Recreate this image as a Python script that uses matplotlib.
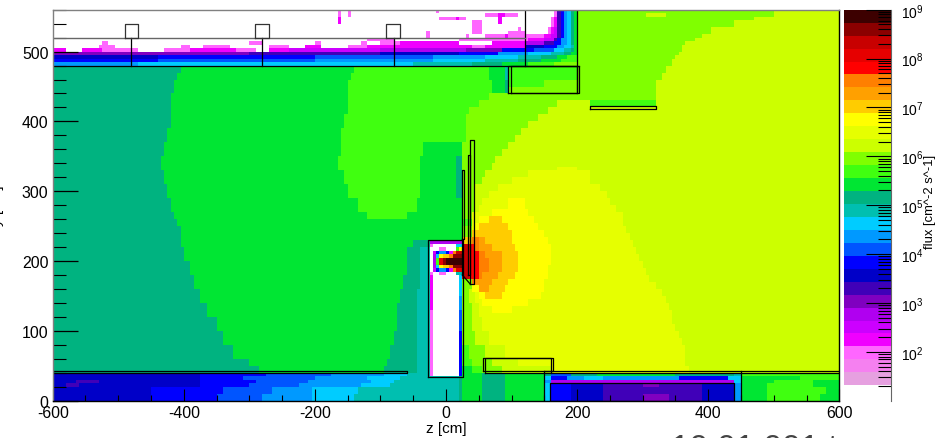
import numpy as np
import matplotlib
matplotlib.use('Agg')
import matplotlib.pyplot as plt
from matplotlib.colors import ListedColormap, BoundaryNorm
from matplotlib.ticker import MultipleLocator, LogLocator, NullFormatter

plt.rcParams['font.family'] = ['Liberation Sans', 'DejaVu Sans']
plt.rcParams['axes.unicode_minus'] = False

# palette, band 1 is the top of the scale (1e9), one band = 0.265 decades
BAND_COLORS = ['#3d0000', '#8b0000', '#c80000', '#e60000', '#ff0000', '#ff7f00', '#ffa000', '#ffcc00',
               '#ffff00', '#e6ff00', '#ccff00', '#80ff00', '#40ff10', '#00e633', '#00b380', '#00bfb0',
               '#00ccff', '#0099ff', '#0055ff', '#0000ff', '#0000c8', '#4000b8', '#8000c0', '#b000f0',
               '#cc00ff', '#f000ff', '#ff66ff', '#f580f0', '#e6a0e0']
BAND_WIDTH = 0.265

# rows: y0, y1, z start, [(z end, band), ...], band 0 = no flux (white)
HALL_ROWS = [
    (40, 50, -600, [(-287, 15), (-97, 14), (-47, 15), (-27, 16), (26, 0), (40, 14), (56, 13), (85, 12), (160, 11), (368, 10), (600, 11)]),
    (50, 60, -600, [(-300, 15), (-92, 14), (-47, 15), (-27, 16), (26, 0), (38, 13), (70, 12), (112, 11), (367, 10), (600, 11)]),
    (60, 80, -600, [(-325, 15), (-85, 14), (-47, 15), (-27, 16), (26, 0), (35, 13), (58, 12), (90, 11), (365, 10), (600, 11)]),
    (80, 100, -600, [(-340, 15), (-78, 14), (-47, 15), (-27, 16), (26, 0), (45, 12), (66, 11), (358, 10), (600, 11)]),
    (100, 120, -600, [(-352, 15), (-76, 14), (-47, 15), (-27, 16), (26, 0), (40, 12), (55, 11), (350, 10), (600, 11)]),
    (120, 140, -600, [(-365, 15), (-73, 14), (-45, 15), (-27, 16), (26, 0), (38, 12), (48, 11), (343, 10), (600, 11)]),
    (140, 160, -600, [(-376, 15), (-70, 14), (-43, 15), (-27, 16), (26, 0), (36, 12), (44, 11), (330, 10), (600, 11)]),
    (160, 180, -600, [(-385, 15), (-65, 14), (-41, 15), (-27, 16), (26, 0), (42, 12), (308, 10), (600, 11)]),
    (180, 200, -600, [(-392, 15), (-60, 14), (-41, 15), (-27, 16), (26, 0), (42, 12), (298, 10), (600, 11)]),
    (200, 220, -600, [(-400, 15), (-60, 14), (-41, 15), (-27, 16), (26, 0), (42, 12), (288, 10), (600, 11)]),
    (220, 230, -600, [(-405, 15), (-50, 14), (-27, 15), (26, 0), (42, 12), (280, 10), (600, 11)]),
    (230, 250, -600, [(-407, 15), (26, 14), (42, 12), (275, 10), (600, 11)]),
    (250, 260, -600, [(-410, 15), (26, 14), (42, 13), (272, 10), (600, 11)]),
    (260, 270, -600, [(-415, 15), (-120, 14), (-60, 13), (26, 14), (42, 12), (268, 10), (600, 11)]),
    (270, 290, -600, [(-420, 15), (-135, 14), (-44, 13), (25, 14), (42, 12), (55, 11), (255, 10), (600, 11)]),
    (290, 310, -600, [(-425, 15), (-150, 14), (-41, 13), (15, 14), (25, 15), (39, 12), (75, 11), (240, 10), (600, 11)]),
    (310, 330, -600, [(-432, 15), (-155, 14), (-41, 13), (15, 14), (25, 15), (55, 12), (115, 11), (220, 10), (600, 11)]),
    (330, 335, -600, [(-435, 15), (-165, 14), (-41, 13), (15, 14), (25, 15), (70, 12), (168, 11), (198, 10), (600, 11)]),
    (335, 350, -600, [(-435, 15), (-165, 14), (-41, 13), (15, 14), (25, 15), (75, 12), (600, 11)]),
    (350, 370, -600, [(-430, 15), (-160, 14), (-33, 13), (25, 14), (90, 12), (600, 11)]),
    (370, 390, -600, [(-425, 15), (-158, 14), (30, 13), (110, 12), (600, 11)]),
    (390, 400, -600, [(-420, 15), (-155, 14), (30, 13), (125, 12), (600, 11)]),
    (400, 410, -600, [(-420, 15), (-155, 14), (30, 13), (140, 12), (600, 11)]),
    (410, 420, -600, [(-418, 15), (-152, 14), (35, 13), (155, 12), (600, 11)]),
    (420, 430, -600, [(-418, 15), (-152, 14), (50, 13), (172, 12), (220, 11), (320, 12), (600, 11)]),
    (430, 440, -600, [(-418, 15), (-150, 14), (65, 13), (322, 12), (600, 11)]),
    (440, 460, -600, [(-415, 15), (-150, 14), (70, 13), (90, 14), (97, 15), (322, 12), (600, 11)]),
    (460, 470, -600, [(-410, 15), (-143, 14), (65, 13), (92, 14), (97, 16), (200, 13), (330, 12), (600, 11)]),
    (470, 480, -600, [(-404, 15), (-141, 14), (65, 13), (92, 14), (97, 16), (200, 13), (335, 12), (600, 11)]),
]

# finer steps for the long smooth edges right of the detector (10/11 and 12/11)
EDGE_ROWS = [
    (40, 50, 200, [(368, 10), (600, 11)]), (50, 60, 200, [(367, 10), (600, 11)]),
    (60, 70, 200, [(367, 10), (600, 11)]), (70, 80, 200, [(364, 10), (600, 11)]),
    (80, 90, 200, [(360, 10), (600, 11)]), (90, 100, 200, [(356, 10), (600, 11)]),
    (100, 110, 200, [(351, 10), (600, 11)]), (110, 120, 200, [(347, 10), (600, 11)]),
    (120, 130, 200, [(344, 10), (600, 11)]), (130, 140, 200, [(341, 10), (600, 11)]),
    (140, 150, 200, [(337, 10), (600, 11)]), (150, 160, 200, [(328, 10), (600, 11)]),
    (160, 170, 200, [(318, 10), (600, 11)]), (170, 180, 200, [(310, 10), (600, 11)]),
    (180, 190, 200, [(304, 10), (600, 11)]), (190, 200, 200, [(298, 10), (600, 11)]),
    (200, 210, 200, [(294, 10), (600, 11)]), (210, 220, 200, [(288, 10), (600, 11)]),
    (220, 230, 200, [(283, 10), (600, 11)]), (230, 240, 200, [(278, 10), (600, 11)]),
    (240, 250, 200, [(275, 10), (600, 11)]), (250, 260, 200, [(272, 10), (600, 11)]),
    (260, 270, 200, [(268, 10), (600, 11)]), (270, 280, 200, [(260, 10), (600, 11)]),
    (280, 290, 200, [(251, 10), (600, 11)]), (290, 300, 200, [(245, 10), (600, 11)]),
    (300, 310, 200, [(237, 10), (600, 11)]),
    (270, 280, 42, [(43, 12), (48, 11), (90, 10)]),
    (280, 290, 42, [(44, 12), (55, 11), (100, 10)]),
    (290, 300, 42, [(45, 12), (65, 11), (110, 10)]),
    (300, 310, 42, [(46, 12), (80, 11), (120, 10)]),
    (310, 320, 42, [(54, 12), (100, 11), (140, 10)]),
    (320, 330, 42, [(60, 12), (127, 11), (170, 10)]),
    (330, 340, 42, [(70, 12), (120, 11)]),
    (340, 350, 42, [(76, 12), (120, 11)]),
    (350, 360, 42, [(85, 12), (130, 11)]),
    (360, 370, 42, [(93, 12), (130, 11)]),
    (370, 380, 42, [(103, 12), (140, 11)]),
    (380, 390, 42, [(115, 12), (150, 11)]),
]

# hot spot right of the target, painted over the hall rows
HOT_ROWS = [
    (125, 135, 70, [(100, 9)]),
    (135, 145, 55, [(125, 9)]),
    (145, 155, 50, [(62, 9), (87, 8), (145, 9)]),
    (155, 165, 42, [(48, 9), (50, 8), (65, 7), (90, 8), (148, 9)]),
    (165, 175, 42, [(47, 6), (70, 7), (95, 8), (150, 9)]),
    (175, 185, 26, [(33, 3), (36, 4), (49, 5), (55, 6), (78, 7), (105, 8), (153, 9)]),
    (185, 195, 26, [(33, 3), (36, 4), (49, 5), (63, 6), (83, 7), (109, 8), (157, 9)]),
    (195, 205, 26, [(33, 3), (36, 4), (49, 5), (63, 6), (83, 7), (109, 8), (158, 9)]),
    (205, 215, 26, [(33, 3), (36, 4), (49, 5), (60, 6), (83, 7), (109, 8), (160, 9)]),
    (215, 225, 26, [(33, 3), (36, 4), (46, 5), (52, 6), (72, 7), (107, 8), (158, 9)]),
    (225, 235, 26, [(42, 8), (48, 6), (60, 7), (100, 8), (155, 9)]),
    (235, 245, 42, [(100, 8), (150, 9)]),
    (245, 255, 43, [(50, 9), (95, 8), (142, 9)]),
    (255, 265, 52, [(65, 9), (85, 8), (135, 9)]),
    (265, 275, 68, [(125, 9)]),
    (275, 288, 95, [(122, 9)]),
]

# concrete box with the source inside
BOX_ROWS = [
    (35, 100, -27, [(-22, 27), (20, 0), (26, 20)]),
    (100, 130, -27, [(-22, 27), (20, 0), (26, 19)]),
    (130, 150, -27, [(-22, 26), (20, 0), (26, 18)]),
    (150, 180, -27, [(-22, 26), (18, 0), (26, 17)]),
    (180, 187, -27, [(-22, 27), (-12, 0), (0, 27), (15, 0), (26, 16)]),
    (187, 192, -27, [(-20, 0), (-15, 25), (-10, 20), (0, 18), (5, 20), (10, 26), (15, 6), (26, 4)]),
    (192, 197, -27, [(-22, 0), (-17, 24), (-12, 17), (-7, 9), (3, 8), (8, 6), (26, 2)]),
    (197, 203, -27, [(-22, 0), (-17, 24), (-12, 13), (-7, 4), (-2, 2), (26, 1)]),
    (203, 208, -27, [(-22, 0), (-17, 24), (-12, 17), (-7, 9), (3, 8), (8, 6), (26, 2)]),
    (208, 213, -27, [(-20, 0), (-15, 25), (-10, 20), (0, 18), (5, 20), (10, 26), (15, 6), (26, 3)]),
    (213, 218, -27, [(-12, 0), (0, 27), (15, 0), (20, 13), (26, 9)]),
    (218, 225, -27, [(-22, 27), (15, 0), (26, 17)]),
    (225, 230, -27, [(26, 24)]),
]

SHIELD_TOP_ROWS = [
    (480, 485, -600, [(-470, 18), (-50, 17), (40, 16), (85, 15), (125, 14), (165, 13), (344, 12), (600, 11)]),
    (485, 490, -600, [(-440, 20), (-200, 19), (-20, 18), (60, 17), (110, 16), (145, 15), (175, 14), (200, 13), (346, 12), (600, 11)]),
    (490, 495, -600, [(-440, 21), (-200, 20), (-20, 19), (60, 18), (110, 17), (145, 16), (170, 15), (185, 14), (200, 13), (350, 12), (600, 11)]),
    (495, 500, -600, [(-300, 23), (-100, 22), (20, 21), (80, 20), (125, 18), (160, 17), (178, 16), (190, 15), (200, 14), (353, 12), (600, 11)]),
    (500, 505, -600, [(-580, 26), (-555, 0), (-525, 26), (-470, 27), (-430, 0), (-390, 27), (-320, 26), (-290, 27), (-272, 0), (-240, 26), (-100, 25), (30, 24), (85, 23), (135, 20), (165, 19), (178, 17), (188, 16), (195, 15), (200, 14), (358, 12), (600, 11)]),
    (505, 510, -600, [(-529, 0), (-506, 27), (-407, 0), (-390, 27), (-370, 0), (-331, 27), (-272, 0), (-240, 27), (-215, 0), (-190, 26), (-150, 0), (-121, 27), (40, 26), (60, 27), (120, 26), (150, 21), (170, 20), (180, 18), (188, 17), (193, 16), (197, 15), (200, 14), (362, 12), (600, 11)]),
    (510, 515, -600, [(-525, 0), (-515, 27), (-300, 0), (-280, 27), (-200, 0), (-190, 27), (-130, 0), (-121, 27), (-100, 0), (-70, 27), (20, 26), (70, 0), (120, 26), (150, 24), (165, 22), (176, 20), (184, 18), (188, 17), (192, 16), (196, 15), (200, 14), (366, 12), (600, 11)]),
    (515, 520, -600, [(-120, 0), (-80, 27), (20, 0), (125, 27), (150, 26), (165, 25), (170, 22), (176, 20), (184, 18), (188, 17), (192, 16), (196, 15), (200, 14), (380, 12), (600, 11)]),
    (520, 525, -600, [(60, 0), (90, 27), (120, 26), (150, 27), (160, 26), (170, 25), (176, 22), (180, 20), (184, 18), (188, 17), (192, 16), (196, 15), (200, 14), (392, 12), (600, 11)]),
    (525, 535, -600, [(155, 0), (160, 27), (165, 26), (170, 25), (176, 22), (180, 20), (184, 18), (188, 17), (192, 16), (196, 15), (200, 14), (405, 12), (600, 11)]),
    (535, 545, -600, [(160, 0), (165, 27), (170, 26), (176, 22), (180, 20), (184, 18), (188, 17), (192, 16), (196, 15), (200, 14), (440, 12), (600, 11)]),
    (545, 552, -600, [(162, 0), (166, 27), (170, 26), (176, 22), (180, 20), (184, 18), (188, 17), (192, 16), (196, 15), (200, 14), (470, 12), (600, 11)]),
    (552, 560, -600, [(164, 0), (168, 27), (172, 26), (176, 22), (180, 20), (184, 18), (188, 17), (192, 16), (196, 15), (200, 14), (500, 12), (600, 11)]),
]

# single pink cells in the top shield and small patches
SPECKLE_ROWS = [
    (550, 560, -165, [(-160, 27), (-150, 0), (-145, 27)]),
    (540, 550, -165, [(-160, 26)]),
    (555, 560, -15, [(-10, 27)]),
    (545, 550, -10, [(15, 27), (20, 26), (30, 27)]),
    (525, 545, 40, [(55, 27)]),
    (550, 555, 60, [(80, 27), (90, 26), (110, 27)]),
    (540, 550, 80, [(85, 26)]),
    (530, 535, 108, [(113, 27)]),
    (520, 530, 95, [(120, 27)]),
    (520, 530, -32, [(-27, 27)]),
    (520, 525, 28, [(33, 27)]),
    (550, 557, 306, [(333, 11)]),
    (422, 428, 220, [(320, 13)]),
    (450, 460, 97, [(150, 13)]),
]

BOTTOM_ROWS = [
    (35, 40, -600, [(-376, 21), (-275, 20), (-173, 19), (-97, 18), (-61, 17), (-27, 16), (26, 20), (40, 14), (56, 14), (89, 15), (150, 14), (160, 15), (190, 19), (230, 15), (350, 14), (440, 15), (450, 16), (600, 13)]),
    (30, 35, -600, [(-376, 21), (-310, 20), (-200, 19), (-120, 18), (-70, 17), (20, 16), (26, 15), (56, 14), (89, 15), (150, 14), (158, 17), (183, 20), (208, 18), (239, 17), (356, 18), (432, 20), (450, 17), (540, 14), (600, 13)]),
    (26, 30, -600, [(-565, 21), (-530, 22), (-375, 21), (-290, 20), (-210, 19), (-115, 18), (-80, 17), (20, 16), (26, 15), (56, 14), (89, 15), (150, 14), (158, 18), (440, 24), (450, 17), (500, 14), (560, 13), (600, 14)]),
    (18, 26, -600, [(-580, 21), (-560, 22), (-375, 21), (-300, 20), (-225, 19), (-130, 18), (-85, 17), (20, 16), (26, 15), (56, 14), (89, 15), (150, 14), (158, 17), (188, 20), (239, 21), (300, 22), (325, 23), (391, 22), (440, 21), (450, 18), (490, 14), (560, 13), (600, 14)]),
    (8, 18, -600, [(-450, 21), (-340, 20), (-265, 19), (-205, 18), (-135, 17), (20, 16), (26, 15), (56, 14), (89, 15), (150, 14), (158, 17), (188, 20), (239, 21), (390, 22), (440, 21), (450, 18), (490, 14), (580, 13), (600, 14)]),
    (0, 8, -600, [(-450, 21), (-350, 20), (-280, 19), (-205, 18), (-140, 17), (20, 16), (26, 15), (56, 14), (89, 15), (150, 14), (158, 17), (188, 20), (239, 21), (300, 22), (340, 23), (391, 22), (440, 21), (450, 18), (490, 14), (570, 13), (600, 14)]),
]

# geometry outlines in cm: z0, y0, z1, y1
DETECTOR_BOXES = [(-27, 34, 26, 230), (95, 440, 203, 480), (99, 440, 200, 480), (56, 42, 163, 61),
                  (60, 39, 160, 61), (220, 418, 320, 422), (-600, 39, -60, 42), (158, 0, 440, 26),
                  (37, 167, 42, 373), (33, 180, 37, 352), (25, 231, 28, 331)]
SHIELD_LINES = [([-600, 203], [480, 480]), ([-481, -481], [480, 520]), ([-280, -280], [480, 520]),
                ([-80, -80], [480, 520]), ([121, 121], [480, 560]), ([200, 200], [440, 560]),
                ([150, 600], [42, 42]), ([160, 600], [39, 39]), ([150, 150], [0, 42]), ([450, 450], [0, 42]),
                ([25, 37], [180, 167]), ([25, 25], [180, 231])]
ROOF_LINE = ([-600, 121], [520, 520])
ROOF_BOXES = [(-490, 520, -470, 540), (-291, 520, -270, 540), (-91, 520, -70, 540)]


def fill(grid, rows):
    for y0, y1, z0, runs in rows:
        i0, i1 = int(round(y0 / 5)), int(round(y1 / 5))
        start = z0
        for z_end, band in runs:
            j0, j1 = int(round((start + 600) / 5)), int(round((z_end + 600) / 5))
            grid[i0:i1, j0:j1] = band
            start = z_end


def box_line(ax, b, color='k', lw=0.9):
    z0, y0, z1, y1 = b
    ax.plot([z0, z1, z1, z0, z0], [y0, y0, y1, y1, y0], color=color, lw=lw)


def main():
    W, H = 941, 439
    fig = plt.figure(figsize=(W / 100, H / 100), dpi=100)
    ax = fig.add_axes([52.7 / W, 1 - 401.7 / H, (839.3 - 52.7) / W, (401.7 - 10.7) / H])
    cax = fig.add_axes([844.3 / W, 1 - 401.7 / H, (891 - 844.3) / W, (401.7 - 10.7) / H])

    bands = np.zeros((112, 240), dtype=int)
    for rows in (BOTTOM_ROWS, HALL_ROWS, SHIELD_TOP_ROWS, EDGE_ROWS, HOT_ROWS, BOX_ROWS, SPECKLE_ROWS):
        fill(bands, rows)

    # band number -> flux at the middle of that band
    flux = 10.0 ** (9 - BAND_WIDTH * (bands - 0.5))
    flux = np.ma.masked_where(bands == 0, flux)
    levels = 10.0 ** (9 - BAND_WIDTH * np.arange(len(BAND_COLORS) + 1))
    cmap = ListedColormap(BAND_COLORS[::-1])
    norm = BoundaryNorm(levels[::-1], cmap.N)

    z_edges = np.arange(-600, 601, 5)
    y_edges = np.arange(0, 561, 5)
    ax.pcolormesh(z_edges, y_edges, flux, cmap=cmap, norm=norm, shading='flat', rasterized=True)

    for b in DETECTOR_BOXES:
        box_line(ax, b)
    for zs, ys in SHIELD_LINES:
        ax.plot(zs, ys, color='k', lw=0.9)
    ax.plot(ROOF_LINE[0], ROOF_LINE[1], color='#666666', lw=1.0)
    for b in ROOF_BOXES:
        box_line(ax, b, color='#333333', lw=0.9)

    ax.set_xlim(-600, 600)
    ax.set_ylim(0, 560)
    ax.xaxis.set_major_locator(MultipleLocator(200))
    ax.xaxis.set_minor_locator(MultipleLocator(50))
    ax.yaxis.set_major_locator(MultipleLocator(100))
    ax.yaxis.set_minor_locator(MultipleLocator(20))
    ax.tick_params(axis='x', which='major', direction='in', length=8.6, width=0.8, labelsize=11.4, pad=3)
    ax.tick_params(axis='x', which='minor', direction='in', length=4.3, width=0.8)
    ax.tick_params(axis='y', which='major', direction='in', length=18, width=0.9, labelsize=11.4, pad=3)
    ax.tick_params(axis='y', which='minor', direction='in', length=9, width=0.8)
    ax.set_yticks(np.arange(0, 501, 100))
    for s in ('left', 'top'):
        ax.spines[s].set_color('#808080')
    for s in ax.spines.values():
        s.set_linewidth(1.0)
    ax.set_xlabel('z [cm]', fontsize=11, labelpad=1)

    # colour scale on the right
    cax.pcolormesh([0, 1], levels[::-1], (levels[::-1][:-1] * 1.01).reshape(-1, 1), cmap=cmap, norm=norm)
    cax.set_yscale('log')
    cax.set_ylim(10, 1e9)
    cax.set_xlim(0, 1)
    cax.set_xticks([])
    for s in ('left', 'top', 'bottom'):
        cax.spines[s].set_visible(False)
    cax.spines['right'].set_color('#666666')
    cax.yaxis.tick_right()
    major = [10.0 ** e for e in range(2, 10)]
    cax.yaxis.set_major_locator(LogLocator(base=10, numticks=12))
    cax.yaxis.set_minor_locator(LogLocator(base=10, subs=range(2, 10), numticks=12))
    cax.yaxis.set_minor_formatter(NullFormatter())
    cax.set_yticks(major)
    cax.set_yticklabels(['$\\mathregular{10^{%d}}$' % e for e in range(2, 10)])
    cax.tick_params(axis='y', which='major', direction='in', length=18, width=0.8, labelsize=10, pad=7)
    cax.tick_params(axis='y', which='minor', direction='in', length=9.4, width=0.8)

    fig.text(930.5 / W, 1 - 202 / H, 'flux [cm^-2 s^-1]', rotation=90, ha='center', va='center', fontsize=9.4)
    fig.text(4 / W, 1 - 206 / H, 'y [cm]', rotation=90, ha='right', va='center', fontsize=11)
    fig.text(671 / W, 1 - 434 / H, '10 01 001 t', ha='left', va='top', fontsize=24, color='#444444')

    fig.savefig('out.png', dpi=100)


if __name__ == '__main__':
    main()
